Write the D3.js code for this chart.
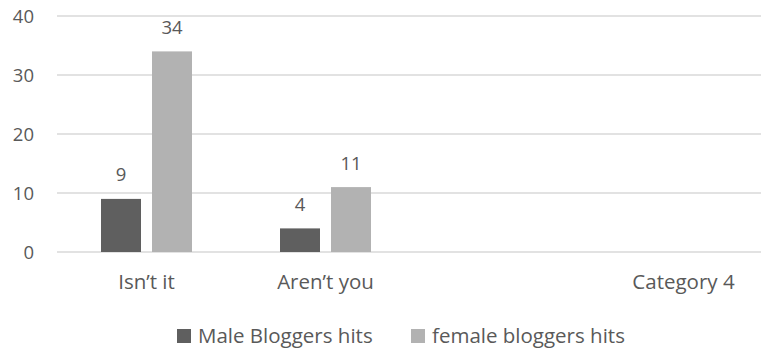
<!DOCTYPE html>
<html><head><meta charset="utf-8">
<script src="https://cdn.jsdelivr.net/npm/d3@7"></script>
<style>body{margin:0;background:#fff}svg{display:block}text{font-family:"Open Sans",sans-serif;fill:#595959}</style>
</head><body>
<script>
const categories = ["Isn\u2019t it", "Aren\u2019t you", "", "Category 4"];
const seriesNames = ["Male Bloggers hits", "female bloggers hits"];
const male = [9, 4, null, null];
const female = [34, 11, null, null];
const yTicks = [0, 10, 20, 30, 40];
const colors = ["#5f5f5f", "#b2b2b2"];

const W = 761, H = 352;
const svg = d3.select("body").append("svg").attr("width", W).attr("height", H);
const fsNum = 18.5, fsWord = 20.5;

const x = d3.scaleBand().domain(d3.range(categories.length)).range([57, 773]).paddingInner(0).paddingOuter(0);
const xs = d3.scaleBand().domain([0, 1]).range([0, x.bandwidth()]).paddingInner(11/51).paddingOuter(44/51);
const y = d3.scaleLinear().domain([0, 40]).range([252, 16]);

// gridlines
svg.append("g").selectAll("line").data(yTicks).join("line")
  .attr("x1", 57).attr("x2", 773).attr("y1", d => y(d)).attr("y2", d => y(d))
  .attr("stroke", "#d9d9d9").attr("stroke-width", 1.5);

// y labels
svg.append("g").selectAll("text").data(yTicks).join("text")
  .attr("x", 34).attr("y", d => y(d)).attr("dy", "0.36em").attr("text-anchor", "end")
  .style("font-size", fsNum + "px").text(d => d);

const series = [male, female];
const g = svg.append("g");
series.forEach((vals, si) => {
  const data = vals.map((v, i) => ({i, v})).filter(d => d.v != null);
  g.selectAll(null).data(data).join("rect")
    .attr("x", d => x(d.i) + xs(si)).attr("width", xs.bandwidth())
    .attr("y", d => y(d.v)).attr("height", d => y(0) - y(d.v))
    .attr("fill", colors[si]);
  g.selectAll(null).data(data).join("text")
    .attr("x", d => x(d.i) + xs(si) + xs.bandwidth() / 2)
    .attr("y", d => y(d.v) - 17.5).attr("text-anchor", "middle")
    .style("font-size", fsNum + "px").text(d => d.v);
});

// x labels
svg.append("g").selectAll("text").data(categories).join("text")
  .attr("x", (d, i) => x(i) + x.bandwidth() / 2).attr("y", 289).attr("text-anchor", "middle")
  .style("font-size", fsWord + "px").text(d => d);

// legend
const legX = [177, 411];
const lg = svg.append("g");
seriesNames.forEach((n, i) => {
  lg.append("rect").attr("x", legX[i]).attr("y", 329).attr("width", 14).attr("height", 14).attr("fill", colors[i]);
  lg.append("text").attr("x", legX[i] + 21).attr("y", 343).style("font-size", fsWord + "px").text(n);
});
</script>
</body></html>
